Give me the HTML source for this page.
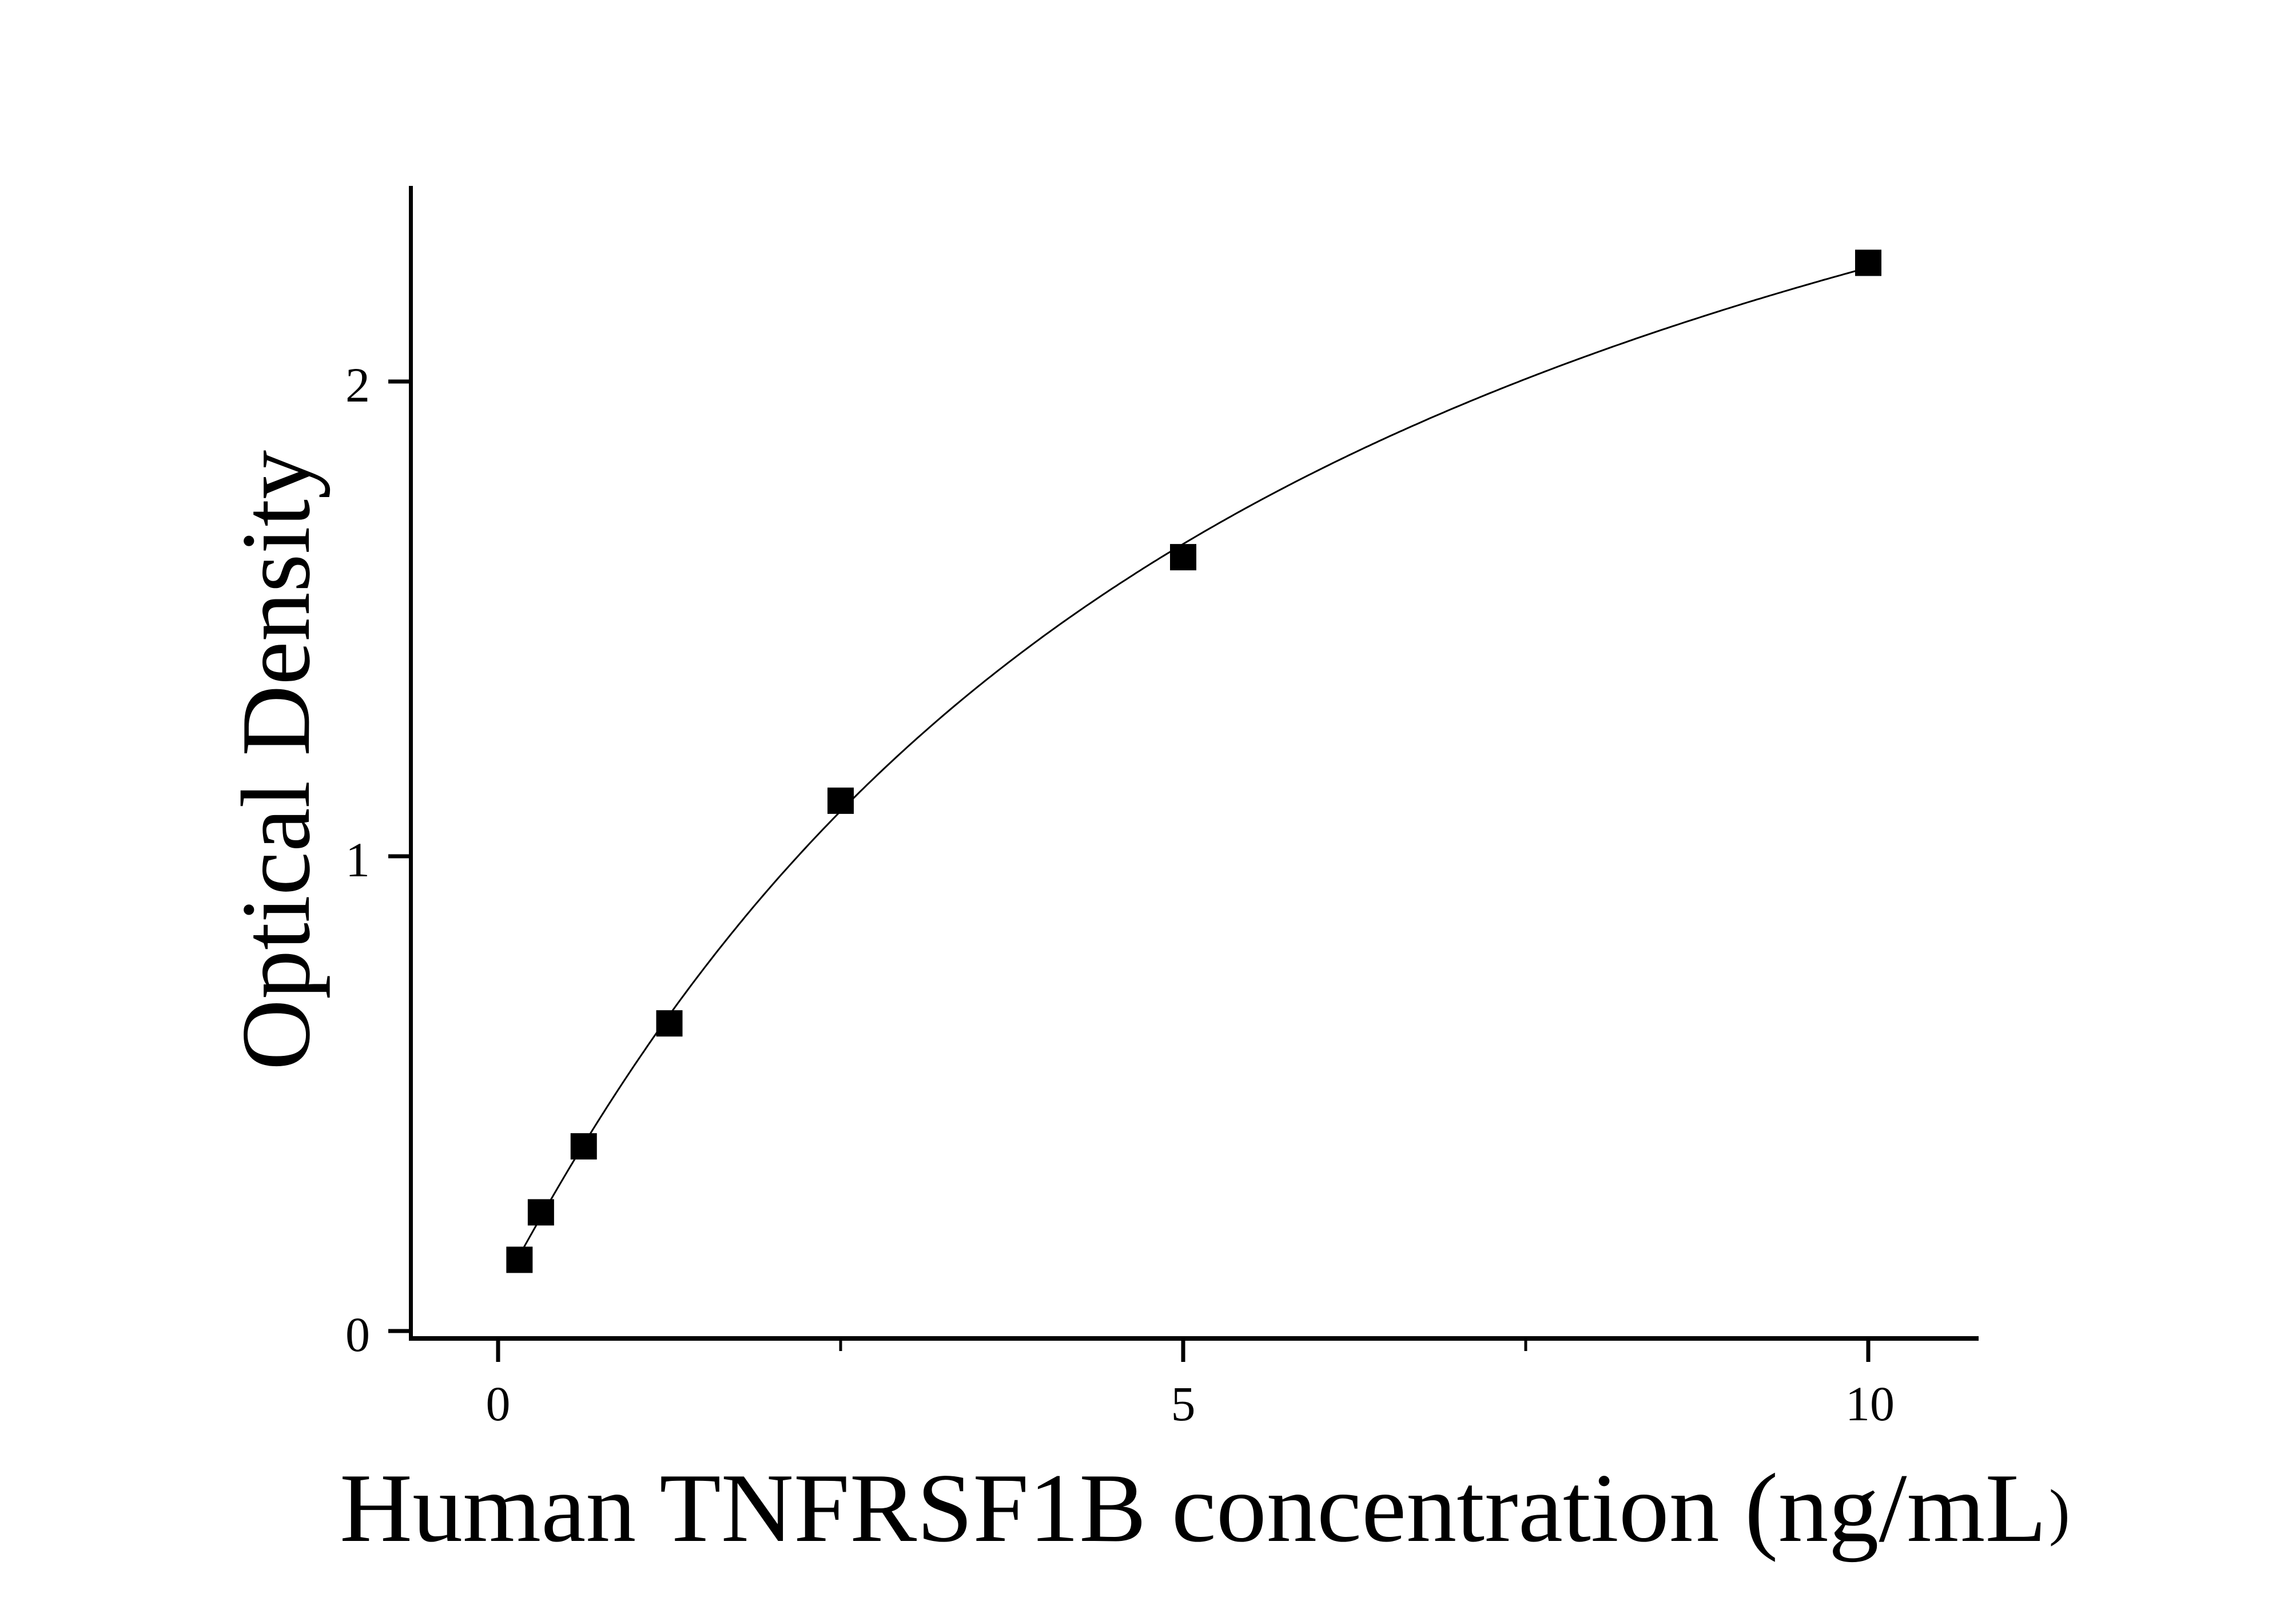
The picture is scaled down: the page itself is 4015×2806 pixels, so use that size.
<!DOCTYPE html>
<html><head><meta charset="utf-8"><style>
html,body{margin:0;padding:0;background:#fff;}
svg{display:block;}
text{font-family:"Liberation Serif","Noto Serif CJK SC",serif;fill:#000;}
</style></head><body>
<svg id="s" width="4015" height="2806" viewBox="0 0 4015 2806" xmlns="http://www.w3.org/2000/svg">
<rect width="4015" height="2806" fill="#fff"/>
<line x1="718.5" y1="325" x2="718.5" y2="2344" stroke="#000" stroke-width="7"/>
<line x1="715" y1="2340" x2="3460" y2="2340" stroke="#000" stroke-width="8"/>
<line x1="679" y1="2327" x2="715" y2="2327" stroke="#000" stroke-width="7"/>
<line x1="679" y1="1497" x2="715" y2="1497" stroke="#000" stroke-width="7"/>
<line x1="679" y1="667" x2="715" y2="667" stroke="#000" stroke-width="7"/>
<line x1="871" y1="2344" x2="871" y2="2381" stroke="#000" stroke-width="7"/>
<line x1="2069" y1="2344" x2="2069" y2="2381" stroke="#000" stroke-width="7"/>
<line x1="3267" y1="2344" x2="3267" y2="2381" stroke="#000" stroke-width="7"/>
<line x1="1470" y1="2344" x2="1470" y2="2362" stroke="#000" stroke-width="5"/>
<line x1="2668" y1="2344" x2="2668" y2="2362" stroke="#000" stroke-width="5"/>
<g font-size="86">
<text x="647" y="2362" text-anchor="end">0</text>
<text x="647" y="1532" text-anchor="end">1</text>
<text x="647" y="702" text-anchor="end">2</text>
<text x="871" y="2483" text-anchor="middle">0</text>
<text x="2069" y="2483" text-anchor="middle">5</text>
<text x="3270" y="2483" text-anchor="middle">10</text>
</g>
<text x="594" y="2694" font-size="172" textLength="2985" lengthAdjust="spacingAndGlyphs">Human TNFRSF1B concentration (ng/mL</text>
<text x="3583" y="2680" font-size="110">)</text>
<text transform="translate(540,1329) rotate(-90)" font-size="172" text-anchor="middle">Optical Density</text>
<path id="curve" fill="none" stroke="#000" stroke-width="3"/>
<g id="pts"></g>
</svg>
<script>
var xs=[0.156,0.3125,0.625,1.25,2.5,5,10], ys=[0.15,0.25,0.389,0.648,1.117,1.63,2.25];
function X(v){return 871+239.6*v;} function Y(v){return 2327-830*v;}
var a=0.08,b=1.04,c=5.5,dd=3.4;
function f(x){return dd+(a-dd)/(1+Math.pow(x/c,b));}
var d="";
for(var i=0;i<=400;i++){var x=0.156+(10-0.156)*i/400;d+=(i?" L":"M")+X(x).toFixed(1)+","+Y(f(x)).toFixed(1);}
document.getElementById("curve").setAttribute("d",d);
var g=document.getElementById("pts");
xs.forEach(function(x,i){var r=document.createElementNS("http://www.w3.org/2000/svg","rect");
r.setAttribute("x",X(x)-23);r.setAttribute("y",Y(ys[i])-23);r.setAttribute("width",46);r.setAttribute("height",46);r.setAttribute("fill","#000");g.appendChild(r);});
</script>
</body></html>
